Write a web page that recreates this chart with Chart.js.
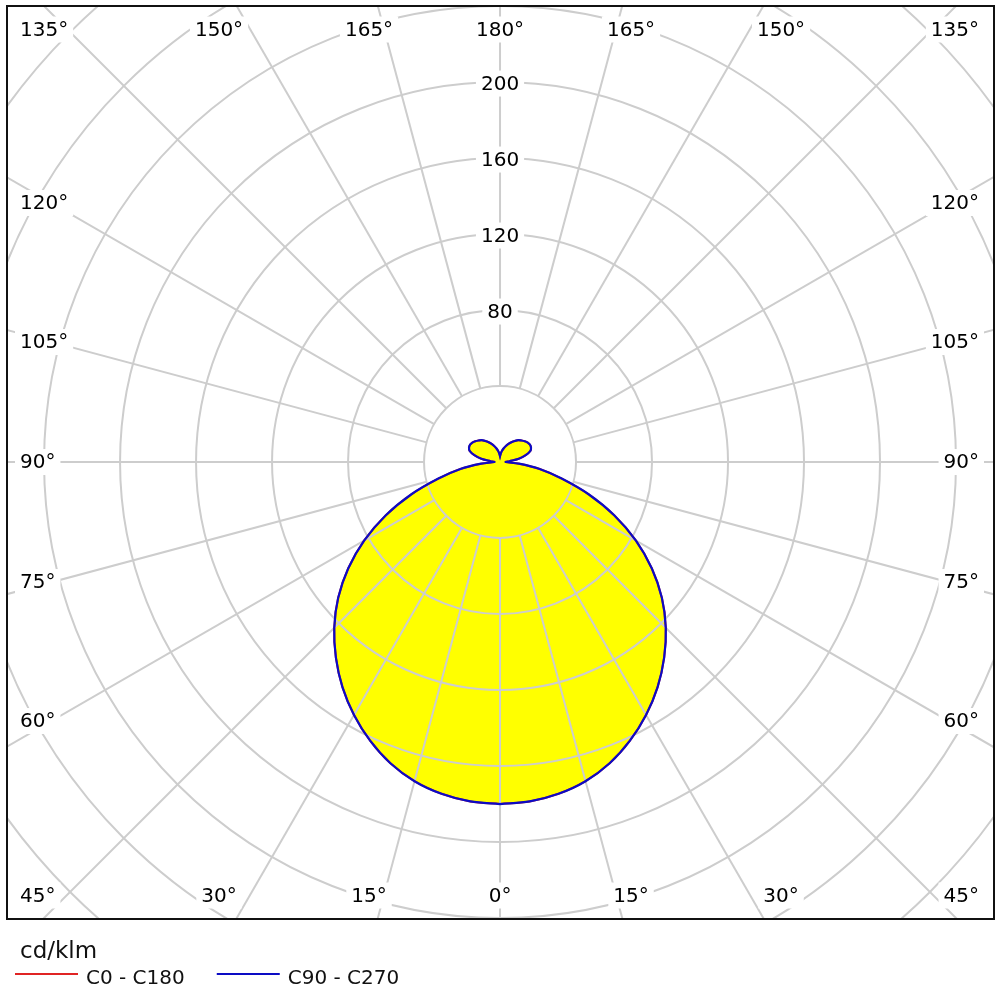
<!DOCTYPE html>
<html>
<head>
<meta charset="utf-8">
<script src="https://cdn.jsdelivr.net/npm/chart.js@4.4.1/dist/chart.umd.min.js"></script>
<style>
html,body{margin:0;padding:0;background:#ffffff;}
#wrap{width:1000px;height:1000px;position:relative;}
</style>
</head>
<body>
<div id="wrap"><canvas id="c"></canvas></div>
<script>
// ---- data (cd/klm) ----
const gammaAngles = [0,5,10,15,20,25,30,35,40,45,50,55,60,65,70,75,80,85,90,95,100,105,110,115,120,125,130,135,140,145,150,155,160,165,170,175,180];
const intensityC0C180 = [180,179.3,177.3,173.9,168.7,161.8,153.7,144.6,134.4,123.4,111.2,97.5,82.5,66.3,49.6,33.6,21.2,10,3,5,10,14,17,18,18.2,17.8,17,16,15,13.5,12,10.5,9,7.5,6,4.5,3];
const intensityC90C270 = [180,179.3,177.3,173.9,168.7,161.8,153.7,144.6,134.4,123.4,111.2,97.5,82.5,66.3,49.6,33.6,21.2,10,3,5,10,14,17,18,18.2,17.8,17,16,15,13.5,12,10.5,9,7.5,6,4.5,3];
const seriesNames = ['C0 - C180', 'C90 - C270'];
const ringValues = [40,80,120,160,200,240,280,320,360];
const ringTickLabels = [80,120,160,200];
const spokeAngles = [0,15,30,45,60,75,90,105,120,135,150,165,180,195,210,225,240,255,270,285,300,315,330,345];
const topAngleLabels = [135,150,165,180,165,150,135];
const bottomAngleLabels = [45,30,15,0,15,30,45];
const sideAngleLabels = [120,105,90,75,60];
const unitLabel = 'cd/klm';

// ---- styles ----
const colRed = '#e02424';
const colBlue = '#0c0cc4';
const colFill = '#ffff00';
const colGrid = '#cdcdcd';
const labelFont = '20px "DejaVu Sans", sans-serif';

function planePoints(vals) {
  const pts = [];
  for (let i = 0; i < gammaAngles.length; i++) {
    const g = gammaAngles[i] * Math.PI / 180;
    pts.push({x: vals[i] * Math.sin(g), y: -vals[i] * Math.cos(g)});
  }
  for (let i = gammaAngles.length - 1; i >= 0; i--) {
    const g = gammaAngles[i] * Math.PI / 180;
    pts.push({x: -vals[i] * Math.sin(g), y: -vals[i] * Math.cos(g)});
  }
  return pts;
}

function geom(chart) {
  const xs = chart.scales.x, ys = chart.scales.y;
  const cx = xs.getPixelForValue(0), cy = ys.getPixelForValue(0);
  const k = xs.getPixelForValue(1) - cx;
  return {cx, cy, k, ca: chart.chartArea};
}

function drawLabel(ctx, text, x, y, align) {
  ctx.font = labelFont;
  const w = ctx.measureText(text).width;
  let left = x;
  if (align === 'center') left = x - w / 2;
  else if (align === 'right') left = x - w;
  ctx.fillStyle = '#ffffff';
  ctx.fillRect(left - 5, y - 13, w + 10, 26);
  ctx.fillStyle = '#000000';
  ctx.textAlign = 'left';
  ctx.textBaseline = 'middle';
  ctx.fillText(text, left, y + 1);
}

const polarGrid = {
  id: 'polarGrid',
  beforeDatasetsDraw(chart) {
    const {ctx} = chart;
    const {cx, cy, k, ca} = geom(chart);
    ctx.save();
    ctx.beginPath();
    ctx.rect(ca.left, ca.top, ca.right - ca.left, ca.bottom - ca.top);
    ctx.clip();
    ctx.strokeStyle = colGrid;
    ctx.lineWidth = 2;
    ringValues.forEach(v => {
      ctx.beginPath();
      ctx.arc(cx, cy, v * k, 0, Math.PI * 2);
      ctx.stroke();
    });
    const r0 = ringValues[0] * k, r1 = 1000;
    spokeAngles.forEach(a => {
      const t = a * Math.PI / 180;
      const dx = Math.sin(t), dy = Math.cos(t);
      ctx.beginPath();
      ctx.moveTo(cx + dx * r0, cy + dy * r0);
      ctx.lineTo(cx + dx * r1, cy + dy * r1);
      ctx.stroke();
    });
    ringTickLabels.forEach(v => {
      drawLabel(ctx, String(v), cx, cy - v * k + 1.5, 'center');
    });
    const rowDx = [null, -281, -131, 0, 131, 281, null];
    const topY = ca.top + 23.5, botY = ca.bottom - 23.5;
    const leftX = ca.left + 13, rightX = ca.right - 15;
    topAngleLabels.forEach((a, i) => {
      const t = a + '°';
      if (i === 0) drawLabel(ctx, t, leftX, topY, 'left');
      else if (i === topAngleLabels.length - 1) drawLabel(ctx, t, rightX, topY, 'right');
      else drawLabel(ctx, t, cx + rowDx[i], topY, 'center');
    });
    bottomAngleLabels.forEach((a, i) => {
      const t = a + '°';
      if (i === 0) drawLabel(ctx, t, leftX, botY, 'left');
      else if (i === bottomAngleLabels.length - 1) drawLabel(ctx, t, rightX, botY, 'right');
      else drawLabel(ctx, t, cx + rowDx[i], botY, 'center');
    });
    const sideDy = [-259, -120, 0, 120, 259];
    sideAngleLabels.forEach((a, i) => {
      const t = a + '°';
      drawLabel(ctx, t, leftX, cy + sideDy[i], 'left');
      drawLabel(ctx, t, rightX, cy + sideDy[i], 'right');
    });
    ctx.restore();
  },
  afterDraw(chart) {
    const {ctx} = chart;
    const {ca} = geom(chart);
    ctx.save();
    ctx.strokeStyle = '#111111';
    ctx.lineWidth = 2;
    ctx.strokeRect(ca.left, ca.top, ca.right - ca.left, ca.bottom - ca.top);
    ctx.fillStyle = '#111111';
    ctx.textAlign = 'left';
    ctx.textBaseline = 'alphabetic';
    ctx.font = '23px "DejaVu Sans", sans-serif';
    ctx.fillText(unitLabel, 20, ca.bottom + 39);
    ctx.font = '20px "DejaVu Sans", sans-serif';
    let x = 15;
    const yLine = ca.bottom + 55, yText = ca.bottom + 65;
    chart.data.datasets.forEach(ds => {
      ctx.strokeStyle = ds.borderColor;
      ctx.lineWidth = 2;
      ctx.beginPath();
      ctx.moveTo(x, yLine);
      ctx.lineTo(x + 63, yLine);
      ctx.stroke();
      ctx.fillStyle = '#111111';
      ctx.fillText(ds.label, x + 71, yText);
      x += 63 + 8 + ctx.measureText(ds.label).width + 32;
    });
    ctx.restore();
  }
};

new Chart(document.getElementById('c'), {
  type: 'scatter',
  data: {
    datasets: [
      {
        label: seriesNames[0],
        data: planePoints(intensityC0C180),
        showLine: true,
        borderColor: colRed,
        backgroundColor: colFill,
        borderWidth: 2,
        fill: 'shape',
        pointRadius: 0,
        tension: 0.35,
        order: 1
      },
      {
        label: seriesNames[1],
        data: planePoints(intensityC90C270),
        showLine: true,
        borderColor: colBlue,
        backgroundColor: colFill,
        borderWidth: 2.2,
        fill: 'shape',
        pointRadius: 0,
        tension: 0.35,
        order: 0
      }
    ]
  },
  options: {
    responsive: true,
    maintainAspectRatio: false,
    animation: false,
    layout: {padding: {left: 7, top: 6, right: 6, bottom: 81}},
    scales: {
      x: {type: 'linear', min: -259.5, max: 260, display: false},
      y: {type: 'linear', min: -240.5, max: 240, display: false}
    },
    plugins: {
      legend: {display: false},
      tooltip: {enabled: false},
      filler: {drawTime: 'beforeDatasetsDraw'}
    }
  },
  plugins: [polarGrid]
});
</script>
</body>
</html>
